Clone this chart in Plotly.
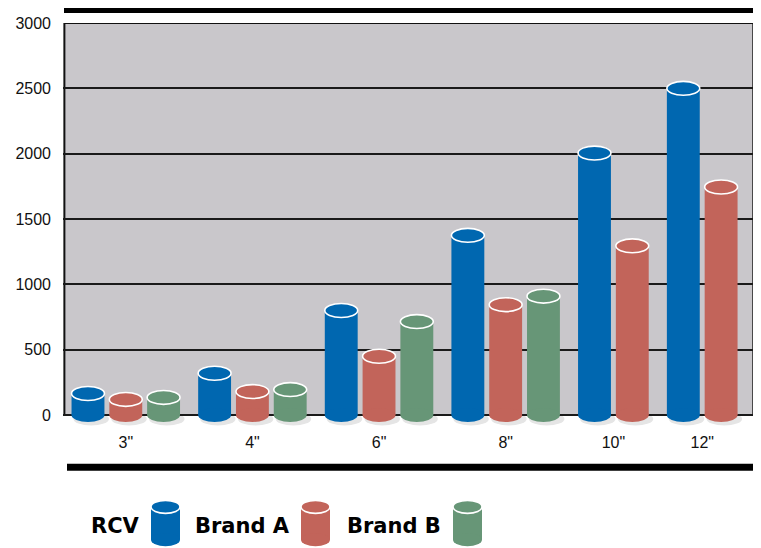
import plotly.graph_objects as go

# ---- data ----
sizes = ['3"', '4"', '6"', '8"', '10"', '12"']
series_names = ["RCV", "Brand A", "Brand B"]
rcv = [165, 320, 800, 1375, 2005, 2500]
brand_a = [120, 180, 450, 845, 1295, 1745]
brand_b = [135, 195, 715, 910, None, None]
y_ticks = [0, 500, 1000, 1500, 2000, 2500, 3000]

colors = {"RCV": "#0067b0", "Brand A": "#c2645a", "Brand B": "#679677"}
series_vals = {"RCV": rcv, "Brand A": brand_a, "Brand B": brand_b}

# ---- layout constants (pixels); page has an 8px body margin ----
OFF = 8
W, H = 761 - OFF, 548 - OFF
ML, MR, MT, MB = 63 - OFF, 7, 20 - OFF, 120
PW, PH = W - ML - MR, H - MT - MB
Y_MIN, Y_MAX = -99, 3000
GROUP_GAP = 1.35      # slot pitch between groups (intra-group pitch = 1)
BAR_W = 0.87
X_MIN, X_MAX = -0.661, 17.62

px_per_y = PH / (Y_MAX - Y_MIN)
ELL = 7 / px_per_y    # ellipse semi-height in data units

def px2paper(px, py):
    # px, py are page pixel positions
    fx, fy = px - OFF, py - OFF
    return (fx - ML) / PW, (H - MB - fy) / PH

# slot positions: empty series slots are dropped
positions = {n: [] for n in series_names}
tick_pos = []
pos = 0.0
for gi, s in enumerate(sizes):
    if gi > 0:
        pos += GROUP_GAP - 1
    group = []
    for n in series_names:
        v = series_vals[n][gi]
        if v is None:
            continue
        positions[n].append((pos, v))
        group.append(pos)
        pos += 1
    tick_pos.append(sum(group) / len(group))

fig = go.Figure()
shapes = []
# gray plot background
shapes.append(dict(type="rect", xref="paper", yref="y", x0=0.002, x1=0.999, y0=0, y1=3000,
                   fillcolor="#c9c7cb", line=dict(color="#111", width=2), layer="below"))

for n in series_names:
    xs = [p for p, v in positions[n]]
    ys = [v for p, v in positions[n]]
    fig.add_trace(go.Bar(x=xs, y=ys, width=BAR_W, name=n,
                         marker=dict(color=colors[n], line=dict(width=0)),
                         showlegend=False, hoverinfo="skip"))
    for p, v in positions[n]:
        # soft shadow
        shapes.append(dict(type="circle", xref="x", yref="y",
                           x0=p - BAR_W / 2 + 0.05, x1=p + BAR_W / 2 + 0.12,
                           y0=-ELL * 1.5, y1=ELL * 0.4,
                           fillcolor="rgba(0,0,0,0.10)", line=dict(width=0), layer="below"))
        # bottom ellipse
        shapes.append(dict(type="circle", xref="x", yref="y",
                           x0=p - BAR_W / 2, x1=p + BAR_W / 2, y0=-ELL, y1=ELL,
                           fillcolor=colors[n], line=dict(width=0), layer="above"))
for n in series_names:
    for p, v in positions[n]:
        shapes.append(dict(type="circle", xref="x", yref="y",
                           x0=p - BAR_W / 2, x1=p + BAR_W / 2, y0=v - ELL, y1=v + ELL,
                           fillcolor=colors[n], line=dict(color="white", width=1.6), layer="above"))

# thick black bars top and bottom
for (x0p, x1p, y0p, y1p) in [(64, 754, 3.3, 10), (67, 754, 464, 471)]:
    a0, b0 = px2paper(x0p, y0p)
    a1, b1 = px2paper(x1p, y1p)
    shapes.append(dict(type="rect", xref="paper", yref="paper", x0=a0, x1=a1, y0=b1, y1=b0,
                       fillcolor="black", line=dict(width=0), layer="above"))

# legend
annotations = []
legend_items = [("RCV", 142, 151), ("Brand A", 292, 301), ("Brand B", 443, 453)]
eh = 6.5 / PH
for n, text_right, icon_left in legend_items:
    tx, ty = px2paper(text_right, 527)
    annotations.append(dict(text=n, xref="paper", yref="paper", x=tx, y=ty,
                            xanchor="right", yanchor="middle", showarrow=False,
                            font=dict(family="DejaVu Sans", size=21, color="black", weight="bold")))
    iw = 29
    ix0, top_c = px2paper(icon_left, 507.5)
    ix1, bot_c = px2paper(icon_left + iw, 540.5)
    shapes.append(dict(type="rect", xref="paper", yref="paper", x0=ix0, x1=ix1, y0=bot_c, y1=top_c,
                       fillcolor=colors[n], line=dict(width=0), layer="above"))
    shapes.append(dict(type="circle", xref="paper", yref="paper", x0=ix0, x1=ix1,
                       y0=bot_c - eh, y1=bot_c + eh,
                       fillcolor=colors[n], line=dict(width=0), layer="above"))
    shapes.append(dict(type="circle", xref="paper", yref="paper", x0=ix0, x1=ix1,
                       y0=top_c - eh, y1=top_c + eh,
                       fillcolor=colors[n], line=dict(color="white", width=1.6), layer="above"))

fig.update_layout(
    width=W, height=H,
    margin=dict(l=ML, r=MR, t=MT, b=MB, pad=0),
    paper_bgcolor="white", plot_bgcolor="white",
    barmode="overlay",
    shapes=shapes, annotations=annotations,
    font=dict(family="Liberation Sans, Arial, sans-serif", size=16, color="#111"),
    xaxis=dict(range=[X_MIN, X_MAX], tickvals=tick_pos, ticktext=sizes,
               showgrid=False, zeroline=False, showline=False, ticks="",
               ticklabelstandoff=3, fixedrange=True),
    yaxis=dict(range=[Y_MIN, Y_MAX], tickvals=y_ticks, showgrid=True,
               gridcolor="#1a1a1a", gridwidth=1.5, zeroline=False, showline=False,
               ticks="", ticklabelstandoff=11, fixedrange=True),
)

fig.write_html("out.html")
